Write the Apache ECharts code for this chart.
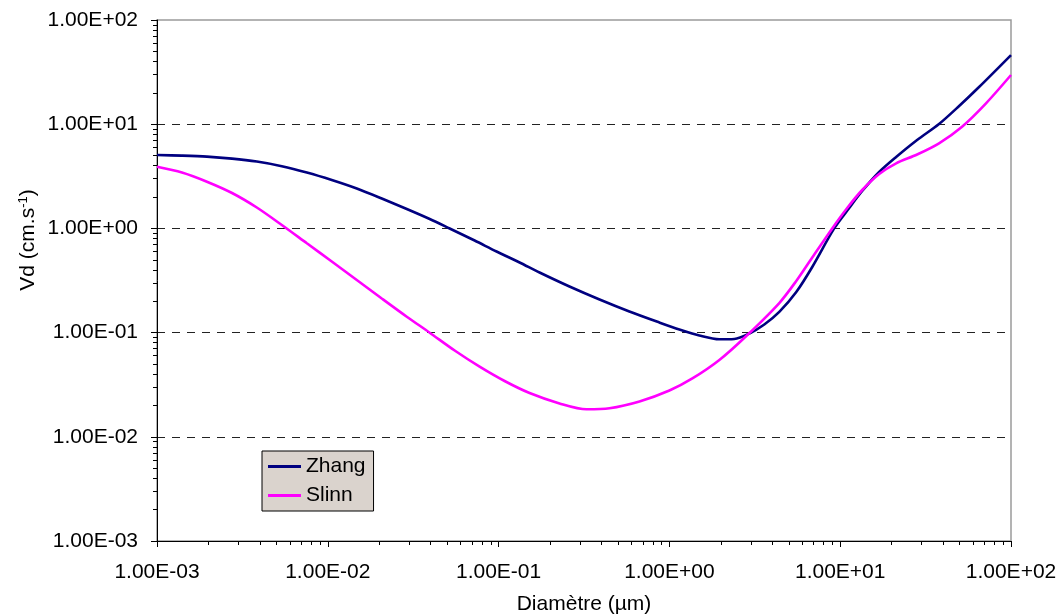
<!DOCTYPE html>
<html>
<head>
<meta charset="utf-8">
<script src="https://cdn.jsdelivr.net/npm/echarts@6/dist/echarts.min.js"></script>
<style>
  html, body { margin: 0; padding: 0; background: #fff; }
  #chart { width: 1059px; height: 616px; }
</style>
</head>
<body>
<div id="chart"></div>
<script>
  // diamètre (µm) et vitesse de dépôt (cm/s)
  var zhangD = [0.001, 0.0014, 0.00196, 0.00275, 0.00384, 0.00538, 0.00754, 0.01055, 0.01478, 0.0207,
    0.029, 0.0395, 0.0517, 0.0724, 0.0973, 0.1327, 0.1737, 0.26, 0.39, 0.583,
    0.874, 1.144, 1.497, 1.961, 2.399, 2.937, 3.594, 4.399, 5.53, 6.86,
    9.22, 11.29, 13.45, 16.91, 21.26, 28.2, 37.9, 49.7, 65.0, 100];
  var zhangV = [5.06, 4.996, 4.888, 4.676, 4.377, 3.954, 3.44, 2.914, 2.415, 1.936,
    1.535, 1.231, 0.998, 0.765, 0.6, 0.471, 0.3774, 0.277, 0.2078, 0.1594,
    0.125, 0.1071, 0.0938, 0.0862, 0.0868, 0.098, 0.1196, 0.158, 0.2452, 0.4263,
    1.0, 1.57, 2.285, 3.478, 4.845, 7.05, 10.04, 14.95, 22.75, 46.1];

  var slinnD = [0.001, 0.0014, 0.00196, 0.00275, 0.00384, 0.00538, 0.00754, 0.01055, 0.01478, 0.0207,
    0.029, 0.0395, 0.0553, 0.0774, 0.1084, 0.1518, 0.2273, 0.327, 0.4458, 0.668,
    1.0, 1.363, 1.961, 2.82, 4.399, 5.53, 6.86, 8.98, 10.99, 13.45,
    16.91, 21.26, 28.2, 37.9, 51.7, 71.4, 100];
  var slinnV = [3.909, 3.44, 2.807, 2.186, 1.587, 1.078, 0.7194, 0.4812, 0.3197, 0.2125,
    0.1421, 0.0998, 0.0673, 0.0471, 0.0343, 0.0263, 0.0209, 0.01836, 0.01877, 0.02182,
    0.0278, 0.0363, 0.0546, 0.0928, 0.1923, 0.3128, 0.5256, 1.0, 1.57, 2.336,
    3.327, 4.216, 5.119, 6.556, 9.463, 15.87, 29.67];

  var decades = [-3, -2, -1, 0, 1];
  var minorSteps = [2, 3, 4, 5, 6, 7, 8, 9];

  var minorTicks = [];
  decades.forEach(function (e) {
    minorSteps.forEach(function (k) {
      minorTicks.push(k * Math.pow(10, e));
    });
  });

  function pairs(xs, ys) {
    return xs.map(function (x, i) { return [x, ys[i]]; });
  }

  function sci(v) {
    var e = Math.round(Math.log10(v));
    var s = e < 0 ? '-' : '+';
    var a = Math.abs(e);
    return '1.00E' + s + (a < 10 ? '0' : '') + a;
  }

  var font = '"Liberation Sans", Arial, sans-serif';
  var chart = echarts.init(document.getElementById('chart'));

  var option = {
    animation: false,
    textStyle: { fontFamily: font, color: '#000' },
    grid: {
      left: 157, right: 48, top: 20, bottom: 75,
      outerBoundsMode: 'none',
      show: true, borderColor: '#9a9a9a', borderWidth: 1.5, backgroundColor: '#fff'
    },
    legend: {
      orient: 'vertical',
      left: 262, top: 451,
      padding: [5, 8, 5, 6],
      itemWidth: 33, itemHeight: 3, itemGap: 8,
      backgroundColor: '#dad3cd',
      borderColor: '#000', borderWidth: 1,
      textStyle: { fontSize: 21, color: '#000', fontFamily: font, lineHeight: 20 },
      data: [
        { name: 'Zhang', icon: 'rect' },
        { name: 'Slinn', icon: 'rect' }
      ]
    },
    xAxis: [
      {
        type: 'log', logBase: 10, min: 0.001, max: 100,
        name: 'Diamètre (µm)', nameLocation: 'middle', nameGap: 53,
        nameTextStyle: { fontSize: 21, color: '#000' },
        axisLine: { lineStyle: { color: '#000', width: 1 } },
        axisTick: { length: 6, lineStyle: { color: '#000' } },
        axisLabel: { fontSize: 21, color: '#000', margin: 21, formatter: sci },
        splitLine: { show: false }
      },
      {
        type: 'log', logBase: 10, min: 0.001, max: 100, position: 'bottom',
        axisLine: { show: false },
        axisTick: { length: 4, customValues: minorTicks, lineStyle: { color: '#000' } },
        axisLabel: { show: false },
        splitLine: { show: false }
      }
    ],
    yAxis: [
      {
        type: 'log', logBase: 10, min: 0.001, max: 100,
        axisLine: { show: true, lineStyle: { color: '#000', width: 1 } },
        axisTick: { show: true, length: 6, lineStyle: { color: '#000' } },
        axisLabel: { fontSize: 21, color: '#000', margin: 19, formatter: sci },
        splitLine: {
          show: true, showMaxLine: false, showMinLine: false,
          lineStyle: { color: '#222', type: [8, 7], width: 1 }
        }
      },
      {
        type: 'log', logBase: 10, min: 0.001, max: 100, position: 'left',
        axisLine: { show: false },
        axisTick: { show: true, length: 4, customValues: minorTicks, lineStyle: { color: '#000' } },
        axisLabel: { show: false },
        splitLine: { show: false }
      }
    ],
    graphic: [
      {
        type: 'text',
        x: 28, y: 240,
        rotation: Math.PI / 2,
        style: {
          text: '{a|Vd (cm.s}{b|-1}{a|)}',
          align: 'center', verticalAlign: 'middle',
          rich: {
            a: { fontSize: 21, fontFamily: font, fill: '#000' },
            b: { fontSize: 13, fontFamily: font, fill: '#000', padding: [0, 0, 10, 0] }
          }
        }
      }
    ],
    series: [
      {
        name: 'Zhang', type: 'line', smooth: 0.3, symbol: 'none',
        xAxisIndex: 0, yAxisIndex: 0,
        lineStyle: { color: '#000080', width: 2.6 },
        itemStyle: { color: '#000080' },
        data: pairs(zhangD, zhangV)
      },
      {
        name: 'Slinn', type: 'line', smooth: 0.3, symbol: 'none',
        xAxisIndex: 0, yAxisIndex: 0,
        lineStyle: { color: '#ff00ff', width: 2.6 },
        itemStyle: { color: '#ff00ff' },
        data: pairs(slinnD, slinnV)
      }
    ]
  };

  chart.setOption(option);
</script>
</body>
</html>
